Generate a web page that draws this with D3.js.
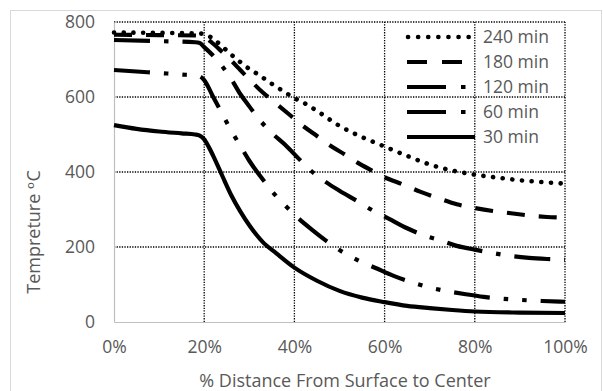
<!DOCTYPE html>
<html>
<head>
<meta charset="utf-8">
<script src="https://cdn.jsdelivr.net/npm/d3@7"></script>
<style>
  html, body { margin: 0; padding: 0; background: #fff; }
  svg { display: block; }
  text { font-family: "Open Sans", "DejaVu Sans", sans-serif; fill: #595959; }
</style>
</head>
<body>
<svg id="chart" width="603" height="391"></svg>
<script>
// Temperature profiles through the section, one series per exposure time
const seriesNames = ["240 min", "180 min", "120 min", "60 min", "30 min"];

const pos240 = [0, 10, 18, 20, 22, 24, 26, 28, 30, 32, 35, 38, 40, 42, 45, 50, 55, 60, 65, 70, 75, 80, 85, 90, 95, 100];
const temp240 = [772, 771, 770, 768, 755, 735, 713, 693, 675, 660, 635, 612, 597, 585, 563, 523, 493, 468, 443, 420, 404, 393, 385, 378, 373, 369];

const pos180 = [0, 10, 18, 20, 22, 24, 26, 28, 30, 33, 36, 39, 42, 45, 48, 51, 54, 57, 60, 64, 68, 72, 76, 80, 84, 88, 92, 96, 100];
const temp180 = [766, 765, 764, 760, 742, 720, 697, 672, 647, 612, 582, 552, 522, 496, 470, 448, 425, 405, 386, 367, 347, 330, 314, 304, 296, 290, 284, 280, 278];

const pos120 = [0, 10, 18, 19, 20, 22, 24, 26, 28, 30, 32, 35, 38, 41, 44, 47, 50, 54, 57, 61, 65, 69, 72, 76, 80, 84, 88, 92, 96, 100];
const temp120 = [752, 749, 746, 744, 733, 710, 682, 648, 608, 575, 543, 504, 472, 435, 400, 373, 350, 322, 300, 275, 250, 230, 219, 203, 193, 184, 176, 171, 168, 166];

const pos60 = [0, 5, 10, 15, 18, 19, 20, 22, 24, 26, 28, 30, 33, 36, 38, 41, 44, 47, 50, 54, 58, 62, 66, 70, 74, 78, 82, 86, 90, 95, 100];
const temp60 = [672, 668, 664, 660, 657, 655, 645, 600, 555, 510, 470, 430, 380, 335, 310, 275, 245, 217, 192, 165, 144, 123, 106, 92, 82, 74, 67, 62, 59, 56, 54];

const pos30 = [0, 5, 10, 15, 18, 19, 20, 21, 22, 24, 26, 28, 30, 33, 36, 40, 45, 50, 55, 60, 65, 70, 75, 80, 90, 100];
const temp30 = [525, 515, 508, 503, 500, 497, 487, 467, 443, 390, 338, 295, 258, 213, 183, 145, 110, 83, 65, 53, 43, 37, 32, 28, 25, 24];

const xTicks = [0, 20, 40, 60, 80, 100];
const yTicks = [0, 200, 400, 600, 800];

const xTitle = "% Distance From Surface to Center";
const yTitle = "Tempreture \u1D52C";

const svg = d3.select("#chart");

// outer chart frame
svg.append("rect")
  .attr("x", 10.5).attr("y", 10.5)
  .attr("width", 591).attr("height", 386)
  .attr("fill", "none").attr("stroke", "#d9d9d9").attr("stroke-width", 1);

const x = d3.scaleLinear().domain([0, 100]).range([114, 565]);
const y = d3.scaleLinear().domain([0, 800]).range([322, 22]);

// dotted gridlines
const grid = svg.append("g");
grid.selectAll(".hg").data(yTicks.filter(d => d > 0)).join("line")
  .attr("x1", x(0)).attr("x2", x(100))
  .attr("y1", d => y(d)).attr("y2", d => y(d))
  .attr("stroke", "#000").attr("stroke-width", 1.3)
  .attr("stroke-dasharray", "1.3 1.3");
grid.selectAll(".vg").data(xTicks.filter(d => d > 0)).join("line")
  .attr("x1", d => x(d)).attr("x2", d => x(d))
  .attr("y1", y(0)).attr("y2", y(800))
  .attr("stroke", "#000").attr("stroke-width", 1.3)
  .attr("stroke-dasharray", "1.3 1.3");

// axes
const xAxis = svg.append("g")
  .attr("transform", `translate(0,${y(0)})`)
  .call(d3.axisBottom(x).tickValues(xTicks).tickFormat(d => d + "%").tickSize(0).tickPadding(19));
const yAxis = svg.append("g")
  .attr("transform", `translate(${x(0)},0)`)
  .call(d3.axisLeft(y).tickValues(yTicks).tickSize(0).tickPadding(19));
[xAxis, yAxis].forEach(a => {
  a.select(".domain").attr("stroke", "#bfbfbf").attr("stroke-width", 1.2);
  a.selectAll("text").attr("font-size", 17.5).attr("fill", "#595959")
    .style("font-family", '"Open Sans", sans-serif');
});

// axis titles
svg.append("text")
  .attr("x", 345).attr("y", 387)
  .attr("text-anchor", "middle").attr("font-size", 18)
  .text(xTitle);
svg.append("text")
  .attr("transform", "translate(40,232) rotate(-90)")
  .attr("text-anchor", "middle").attr("font-size", 18)
  .text(yTitle);

// line styles per series
const styles = {
  "240 min": { dash: "0.1 9.6", cap: "round" },
  "180 min": { dash: "18 14", cap: "butt" },
  "120 min": { dash: "36 14 4.5 14", cap: "butt" },
  "60 min":  { dash: "36 14 4.5 14 4.5 14", cap: "butt" },
  "30 min":  { dash: null, cap: "butt" }
};

const data = [
  { name: "240 min", pos: pos240, temp: temp240 },
  { name: "180 min", pos: pos180, temp: temp180 },
  { name: "120 min", pos: pos120, temp: temp120 },
  { name: "60 min",  pos: pos60,  temp: temp60 },
  { name: "30 min",  pos: pos30,  temp: temp30 }
].map(s => ({ name: s.name, pts: s.pos.map((p, i) => [p, s.temp[i]]) }));

const line = d3.line()
  .x(d => x(d[0])).y(d => y(d[1]))
  .curve(d3.curveMonotoneX);

svg.append("g").selectAll("path").data(data).join("path")
  .attr("d", d => line(d.pts))
  .attr("fill", "none")
  .attr("stroke", "#000")
  .attr("stroke-width", d => d.name === "240 min" ? 4.6 : 4.2)
  .attr("stroke-linecap", d => styles[d.name].cap)
  .attr("stroke-dasharray", d => styles[d.name].dash);

// legend
const legend = svg.append("g");
const rowY = d3.scalePoint().domain(seriesNames).range([37, 137]);
const items = legend.selectAll("g").data(seriesNames).join("g")
  .attr("transform", d => `translate(0,${rowY(d)})`);
items.append("line")
  .attr("x1", d => d === "240 min" ? 408 : 407)
  .attr("x2", d => d === "240 min" ? 470 : 475)
  .attr("y1", 0).attr("y2", 0)
  .attr("stroke", "#000")
  .attr("stroke-width", d => d === "240 min" ? 4.6 : 4.2)
  .attr("stroke-linecap", d => styles[d].cap)
  .attr("stroke-dasharray", d => d === "240 min" ? "0.1 10" : (d === "180 min" ? "20 15" : (d === "30 min" ? null : "39 15 4.5 40")));
items.append("text")
  .attr("x", 483).attr("y", 0).attr("dy", "0.36em")
  .attr("font-size", 17.5)
  .text(d => d);
</script>
</body>
</html>
